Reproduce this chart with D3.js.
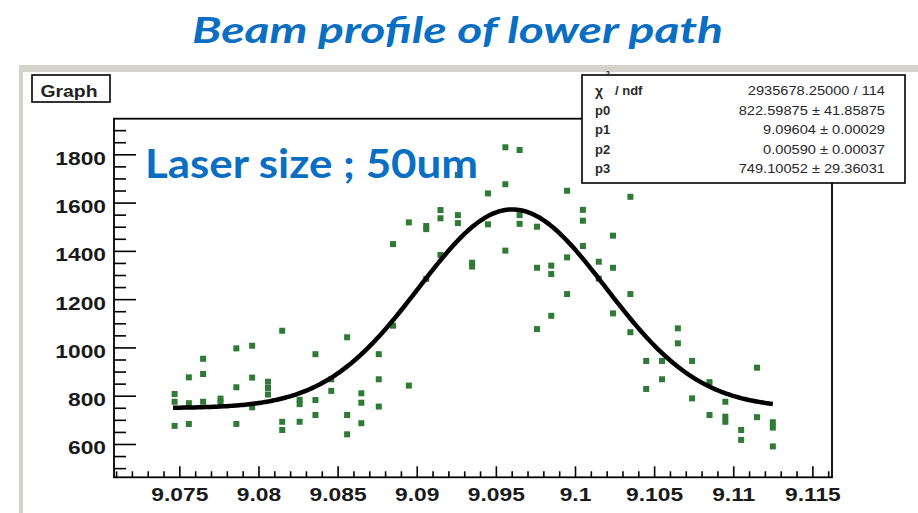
<!DOCTYPE html>
<html>
<head>
<meta charset="utf-8">
<script src="https://cdn.jsdelivr.net/npm/d3@7"></script>
<style>
  html, body { margin: 0; padding: 0; background: #ffffff; }
  svg { display: block; }
</style>
</head>
<body>
<svg id="chart" width="918" height="513"></svg>
<script>
// Scan positions (one entry per measured point) and the signal recorded there
const scanPosition = [
  9.0747, 9.0747, 9.0747,
  9.0756, 9.0756, 9.0756,
  9.0765, 9.0765, 9.0765,
  9.0776, 9.0776,
  9.0786, 9.0786, 9.0786,
  9.0796, 9.0796, 9.0796,
  9.0806, 9.0806, 9.0806,
  9.0815, 9.0815, 9.0815,
  9.0826, 9.0826, 9.0826,
  9.0836, 9.0836, 9.0836,
  9.0846, 9.0846,
  9.0856, 9.0856, 9.0856,
  9.0865, 9.0865, 9.0865,
  9.0876, 9.0876, 9.0876,
  9.0885, 9.0885,
  9.0895, 9.0895,
  9.0906, 9.0906, 9.0906,
  9.0915, 9.0915, 9.0915,
  9.0926, 9.0926, 9.0926,
  9.0935, 9.0935,
  9.0945, 9.0945,
  9.0956, 9.0956, 9.0956,
  9.0965, 9.0965, 9.0965,
  9.0976, 9.0976, 9.0976,
  9.0985, 9.0985, 9.0985,
  9.0995, 9.0995, 9.0995,
  9.1005, 9.1005, 9.1005,
  9.1015, 9.1015,
  9.1024, 9.1024, 9.1024,
  9.1035, 9.1035, 9.1035,
  9.1045, 9.1045,
  9.1055, 9.1055,
  9.1065, 9.1065,
  9.1074, 9.1074,
  9.1085, 9.1085,
  9.1095, 9.1095, 9.1095,
  9.1105, 9.1105,
  9.1115, 9.1115,
  9.1125, 9.1125, 9.1125
];
const signal = [
  807, 775, 675,
  876, 769, 683,
  953, 890, 775,
  788, 772,
  996, 835, 683,
  1007, 875, 752,
  858, 832, 805,
  1069, 692, 658,
  783, 765, 692,
  972, 782, 720,
  820, 868,
  1042, 720, 640,
  810, 771, 686,
  972, 868, 755,
  1428, 1090,
  1518, 842,
  1503, 1490, 1284,
  1569, 1535, 1383,
  1714, 1548, 1515,
  1351, 1335,
  1638, 1510,
  1829, 1676, 1401,
  1818, 1548, 1512,
  1500, 1330, 1076,
  1339, 1304, 1131,
  1649, 1373, 1221,
  1570, 1525, 1420,
  1355, 1285,
  1463, 1330, 1141,
  1624, 1221, 1063,
  944, 828,
  944, 868,
  1079, 1017,
  944, 789,
  856, 720,
  775, 713, 692,
  658, 617,
  916, 711,
  690, 668, 590
];

// Gaussian + constant fit: p3 + p0 * exp(-0.5 * ((x - p1) / p2)^2)
const fitNames  = ["p0", "p1", "p2", "p3"];
const fitValues = [822.59875, 9.09604, 0.00590, 749.10052];
const fitErrors = ["41.85875", "0.00029", "0.00037", "29.36031"];
const fitValueText = ["822.59875", "9.09604", "0.00590", "749.10052"];
const fitRange = [9.0746, 9.1125];
const chi2Text = "2935678.25000 / 114";

const xTickValues = [9.075, 9.08, 9.085, 9.09, 9.095, 9.1, 9.105, 9.11, 9.115];
const xTickLabels = ["9.075", "9.08", "9.085", "9.09", "9.095", "9.1", "9.105", "9.11", "9.115"];
const yTickValues = [600, 800, 1000, 1200, 1400, 1600, 1800];
const yTickLabels = ["600", "800", "1000", "1200", "1400", "1600", "1800"];

const titleText = "Beam profile of lower path";
const noteText = "Laser size ; 50um";

// ---------------------------------------------------------------------------
const svg = d3.select("#chart");
const blue = "#0a6fc2";
const green = "#2f7a35";

// Frame geometry
const L = 114, R = 832, T = 118.7, B = 477.3;

const x = d3.scaleLinear().domain([9.07087, 9.11624]).range([L, R]);
const y = d3.scaleLinear().domain([462, 1947.5]).range([B, T]);

// Canvas window (grey border, white pad)
svg.append("rect").attr("x", 19).attr("y", 65).attr("width", 918 - 19).attr("height", 513 - 65)
  .attr("fill", "#d5d2cb");
svg.append("rect").attr("x", 23).attr("y", 72).attr("width", 918 - 23).attr("height", 513 - 72)
  .attr("fill", "#ffffff");

// Title
svg.append("text")
  .attr("x", 192).attr("y", 43)
  .attr("font-family", "Lato, 'Open Sans', sans-serif")
  .attr("font-weight", "bold").attr("font-style", "italic")
  .attr("font-size", 36).attr("fill", blue)
  .attr("textLength", 531).attr("lengthAdjust", "spacingAndGlyphs")
  .text(titleText);

// Stretch helper: widen text by a factor of its natural width
function stretch(sel, f) {
  sel.each(function () {
    const w = this.getComputedTextLength();
    d3.select(this).attr("textLength", w * f).attr("lengthAdjust", "spacingAndGlyphs");
  });
}

// Axes
const plot = svg.append("g");

const yMinor = d3.range(500, 1950, 50).filter(v => v % 200 !== 0);
plot.append("g").attr("transform", `translate(${L},0)`)
  .call(d3.axisLeft(y).tickValues(yMinor).tickSizeInner(-12).tickSizeOuter(0).tickFormat(""))
  .call(g => g.select(".domain").remove())
  .call(g => g.selectAll("line").attr("stroke", "#000").attr("stroke-width", 1.6));

const yAxis = plot.append("g").attr("transform", `translate(${L},0)`)
  .call(d3.axisLeft(y).tickValues(yTickValues).tickSizeInner(-22).tickSizeOuter(0).tickPadding(8)
    .tickFormat((d, i) => yTickLabels[i]))
  .call(g => g.select(".domain").remove())
  .call(g => g.selectAll("line").attr("stroke", "#000").attr("stroke-width", 1.6));
yAxis.selectAll("text")
  .attr("font-family", "'Liberation Sans', Arial, sans-serif")
  .attr("font-weight", "bold").attr("font-size", 19).attr("fill", "#1a1a1a")
  .attr("dy", null).attr("y", 10);
stretch(yAxis.selectAll("text"), 1.2);

const xMinor = d3.range(9071, 9117).map(v => v / 1000).filter(v => Math.round(v * 1000) % 5 !== 0);
plot.append("g").attr("transform", `translate(0,${B})`)
  .call(d3.axisBottom(x).tickValues(xMinor).tickSizeInner(-6).tickSizeOuter(0).tickFormat(""))
  .call(g => g.select(".domain").remove())
  .call(g => g.selectAll("line").attr("stroke", "#000").attr("stroke-width", 1.6));

const xAxis = plot.append("g").attr("transform", `translate(0,${B})`)
  .call(d3.axisBottom(x).tickValues(xTickValues).tickSizeInner(-11).tickSizeOuter(0)
    .tickFormat((d, i) => xTickLabels[i]))
  .call(g => g.select(".domain").remove())
  .call(g => g.selectAll("line").attr("stroke", "#000").attr("stroke-width", 1.6));
xAxis.selectAll("text")
  .attr("font-family", "'Liberation Sans', Arial, sans-serif")
  .attr("font-weight", "bold").attr("font-size", 19).attr("fill", "#1a1a1a")
  .attr("dy", null).attr("y", 23.5);
stretch(xAxis.selectAll("text"), 1.2);

// Frame
svg.append("rect").attr("x", L).attr("y", T).attr("width", R - L).attr("height", B - T)
  .attr("fill", "none").attr("stroke", "#000").attr("stroke-width", 1.8);

// Data points
const pts = scanPosition.map((v, i) => ({ x: v, y: signal[i] }));
const ms = 6;
svg.append("g").selectAll("rect").data(pts).join("rect")
  .attr("x", d => x(d.x) - ms / 2).attr("y", d => y(d.y) - ms / 2)
  .attr("width", ms).attr("height", ms)
  .attr("fill", green);

// Fit curve
const [p0, p1, p2, p3] = fitValues;
const fitFn = v => p3 + p0 * Math.exp(-0.5 * Math.pow((v - p1) / p2, 2));
const samples = d3.range(0, 301).map(k => fitRange[0] + (fitRange[1] - fitRange[0]) * k / 300);
svg.append("path")
  .datum(samples)
  .attr("d", d3.line().x(v => x(v)).y(v => y(fitFn(v))))
  .attr("fill", "none").attr("stroke", "#000").attr("stroke-width", 4.5)
  .attr("stroke-linejoin", "round");

// Note
svg.append("text")
  .attr("x", 145).attr("y", 178)
  .attr("font-family", "Lato, 'Open Sans', sans-serif")
  .attr("font-weight", "bold").attr("font-size", 41).attr("fill", blue)
  .attr("textLength", 333).attr("lengthAdjust", "spacingAndGlyphs")
  .text(noteText);

// "Graph" title box
svg.append("rect").attr("x", 32).attr("y", 75).attr("width", 78).attr("height", 27)
  .attr("fill", "#fff").attr("stroke", "#000").attr("stroke-width", 1.6);
svg.append("text").attr("x", 40.5).attr("y", 96.5)
  .attr("font-family", "'Liberation Sans', Arial, sans-serif")
  .attr("font-weight", "bold").attr("font-size", 16).attr("fill", "#222")
  .attr("textLength", 57).attr("lengthAdjust", "spacingAndGlyphs")
  .text("Graph");

// Statistics box
const sb = { x: 582, y: 75, w: 323, h: 108 };
svg.append("rect").attr("x", sb.x).attr("y", sb.y).attr("width", sb.w).attr("height", sb.h)
  .attr("fill", "#fff").attr("stroke", "#000").attr("stroke-width", 1.6);

const stats = svg.append("g")
  .attr("font-family", "'Liberation Sans', Arial, sans-serif").attr("fill", "#2a2a2a");

const rowY = [95, 114.5, 134, 153.5, 173];
// chi-square row
stats.append("text").attr("x", 595).attr("y", rowY[0] + 1)
  .attr("font-size", 14).attr("font-weight", "bold").text("χ");
stats.append("text").attr("x", 605.5).attr("y", 76)
  .attr("font-size", 8).attr("font-weight", "bold").text("2");
stats.append("text").attr("x", 615).attr("y", rowY[0])
  .attr("font-size", 13).attr("font-weight", "bold").text("/ ndf");

const valueTexts = [chi2Text].concat(fitValueText.map((v, i) => `${v} ± ${fitErrors[i]}`));
fitNames.forEach((n, i) => {
  stats.append("text").attr("x", 595).attr("y", rowY[i + 1])
    .attr("font-size", 13).attr("font-weight", "bold").text(n);
});
const vals = stats.selectAll("text.val").data(valueTexts).join("text")
  .attr("class", "val")
  .attr("x", 885).attr("y", (d, i) => rowY[i])
  .attr("text-anchor", "end").attr("font-size", 12.5)
  .text(d => d);
// widen values, keeping them right-aligned
vals.each(function () {
  const w = this.getComputedTextLength() * 1.17;
  d3.select(this).attr("text-anchor", "start").attr("x", 885 - w)
    .attr("textLength", w).attr("lengthAdjust", "spacingAndGlyphs");
});
</script>
</body>
</html>
